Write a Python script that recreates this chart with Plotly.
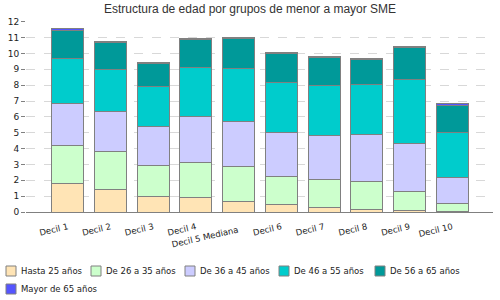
import plotly.graph_objects as go

categories = ["Decil 1", "Decil 2", "Decil 3", "Decil 4", "Decil 5 Mediana",
              "Decil 6", "Decil 7", "Decil 8", "Decil 9", "Decil 10"]

hasta25 = [1.81, 1.43, 0.99, 0.93, 0.67, 0.50, 0.30, 0.17, 0.10, 0.04]
de26_35 = [2.39, 2.40, 1.95, 2.20, 2.17, 1.77, 1.76, 1.76, 1.20, 0.51]
de36_45 = [2.65, 2.52, 2.46, 2.88, 2.88, 2.75, 2.78, 2.97, 3.03, 1.64]
de46_55 = [2.82, 2.65, 2.52, 3.09, 3.34, 3.15, 3.15, 3.15, 4.04, 2.84]
de56_65 = [1.76, 1.68, 1.45, 1.79, 1.87, 1.83, 1.76, 1.58, 2.01, 1.70]
mayor65 = [0.12, 0.07, 0.06, 0.07, 0.09, 0.06, 0.08, 0.07, 0.08, 0.12]

series_names = ["Hasta 25 años", "De 26 a 35 años", "De 36 a 45 años",
                "De 46 a 55 años", "De 56 a 65 años", "Mayor de 65 años"]
series_values = [hasta25, de26_35, de36_45, de46_55, de56_65, mayor65]
colors = ["#FFE4B5", "#CCFFCC", "#CCCCFF", "#00CCCC", "#009999", "#5555FF"]

W, H = 500, 300
ML, MR, MT, MB = 26, 7, 21, 88
pw, ph = W - ML - MR, H - MT - MB
ANGLE = -13

fig = go.Figure()
xs = list(range(len(categories)))
for name, vals, col in zip(series_names, series_values, colors):
    fig.add_trace(go.Bar(
        x=xs, y=vals, name=name, width=0.75,
        marker=dict(color=col, line=dict(color="#808080", width=1)),
        showlegend=False,
    ))

# the staggered label (Decil 5 Mediana) sits one row lower, as in the reference
stagger = 4
tick_labels = ["" if i == stagger else c for i, c in enumerate(categories)]

annotations = [dict(xref="x", yref="paper", x=xs[stagger], xshift=3,
                    y=(H - MB - 222) / ph, xanchor="right", yanchor="top",
                    text=categories[stagger], textangle=ANGLE, showarrow=False,
                    font=dict(family="DejaVu Sans", size=8.5, color="#222"))]

# manual legend (positions in pixels -> paper coords)
legend_pos = [(6, 271), (91, 271), (185, 271), (279, 271), (375, 271), (6, 289)]
shapes = []
for (px, py), name, col in zip(legend_pos, series_names, colors):
    x0 = (px - ML) / pw
    x1 = (px + 10 - ML) / pw
    y0 = (H - MB - (py + 5)) / ph
    y1 = (H - MB - (py - 5)) / ph
    shapes.append(dict(type="rect", xref="paper", yref="paper", x0=x0, x1=x1,
                       y0=y0, y1=y1, fillcolor=col,
                       line=dict(color="#808080", width=1)))
    annotations.append(dict(xref="paper", yref="paper", x=(px + 13 - ML) / pw,
                            y=(H - MB - py) / ph, xanchor="left", yanchor="middle",
                            text=name, showarrow=False,
                            font=dict(family="DejaVu Sans", size=8.5, color="#222")))

fig.update_layout(
    width=W, height=H,
    margin=dict(l=ML, r=MR, t=MT, b=MB, pad=0),
    barmode="stack",
    paper_bgcolor="white", plot_bgcolor="white",
    title=dict(text="Estructura de edad por grupos de menor a mayor SME",
               x=0.5, xanchor="center", y=1 - 9 / H, yanchor="middle",
               font=dict(family="Liberation Sans", size=12, color="#333")),
    xaxis=dict(range=[-0.977, 9.953], tickvals=xs, ticktext=tick_labels,
               tickangle=ANGLE, showgrid=False, showline=True, linecolor="#808080",
               linewidth=1, ticks="", zeroline=False, ticklabelstandoff=6,
               tickfont=dict(family="DejaVu Sans", size=8.5, color="#222")),
    yaxis=dict(range=[0, 12.05], dtick=1, tick0=0, showgrid=True,
               gridcolor="#d8d8d8", griddash="dash", gridwidth=1,
               zeroline=False, showline=False, ticks="outside", ticklen=4,
               tickcolor="#808080",
               tickfont=dict(family="DejaVu Sans", size=9, color="#222")),
    shapes=shapes, annotations=annotations,
    showlegend=False,
)

fig.write_html("out.html", config={"displayModeBar": False},
               post_script="document.body.style.margin='0';")
